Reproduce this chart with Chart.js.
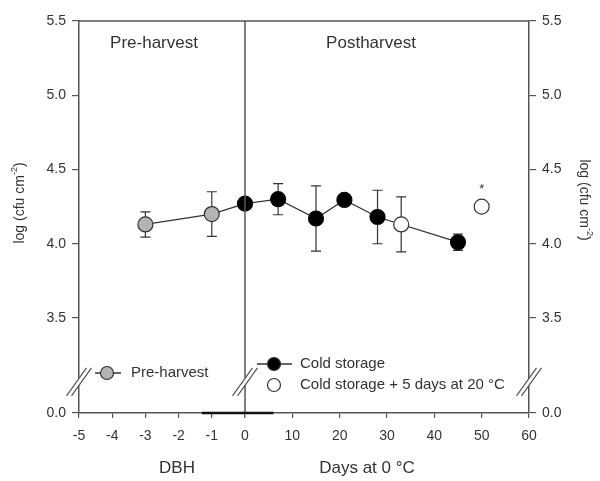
<!DOCTYPE html>
<html>
<head>
<meta charset="utf-8">
<script src="https://cdn.jsdelivr.net/npm/chart.js@4.4.0/dist/chart.umd.min.js"></script>
<style>
  html, body { margin: 0; padding: 0; background: #fff; }
  #wrap { width: 600px; height: 481px; }
</style>
</head>
<body>
<div id="wrap"><canvas id="chart"></canvas></div>
<script>
// pre-harvest, days before harvest (DBH)
const preDays = [-3, -1];
const preVals = [4.13, 4.20];
const preErr = [0.085, 0.15];

// cold storage, days at 0 C
const coldDays = [0, 7, 15, 21, 28, 45];
const coldVals = [4.27, 4.30, 4.17, 4.295, 4.18, 4.01];
const coldErr = [0, 0.105, 0.22, 0.02, 0.18, 0.055];

// cold storage + 5 days at 20 C
const warmDays = [33, 50];
const warmVals = [4.13, 4.25];
const warmErr = [0.185, 0];
const starred = [false, true];

const yTicks = [3.5, 4.0, 4.5, 5.0, 5.5];
const yBottom = 2.86; // drawn as 0.0 under the axis break
const yBreak = 3.07;

const font = '"Liberation Sans", Arial, sans-serif';
const ink = "#333";
const axisColor = "#555";

function pts(xs, ys) {
  return xs.map((x, i) => ({ x: x, y: ys[i] }));
}

function errorBars(ctx, xs, ys, es, xScale, yScale) {
  xs.forEach((x, i) => {
    if (!es[i]) return;
    const px = xScale.getPixelForValue(x);
    const top = yScale.getPixelForValue(ys[i] + es[i]);
    const bot = yScale.getPixelForValue(ys[i] - es[i]);
    ctx.beginPath();
    ctx.moveTo(px, top);
    ctx.lineTo(px, bot);
    ctx.moveTo(px - 5, top);
    ctx.lineTo(px + 5, top);
    ctx.moveTo(px - 5, bot);
    ctx.lineTo(px + 5, bot);
    ctx.stroke();
  });
}

function axisBreak(ctx, x, y) {
  const dx = 10, dy = 14, off = 2.5;
  ctx.save();
  ctx.translate(x, y);
  ctx.fillStyle = "#fff";
  ctx.beginPath();
  ctx.moveTo(-dx - off, dy);
  ctx.lineTo(dx - off, -dy);
  ctx.lineTo(dx + off, -dy);
  ctx.lineTo(-dx + off, dy);
  ctx.closePath();
  ctx.fill();
  ctx.strokeStyle = axisColor;
  ctx.lineWidth = 1.2;
  ctx.beginPath();
  ctx.moveTo(-dx - off, dy);
  ctx.lineTo(dx - off, -dy);
  ctx.moveTo(-dx + off, dy);
  ctx.lineTo(dx + off, -dy);
  ctx.stroke();
  ctx.restore();
}

function marker(ctx, x, y, r, fill) {
  ctx.beginPath();
  ctx.arc(x, y, r, 0, Math.PI * 2);
  ctx.fillStyle = fill;
  ctx.fill();
  ctx.strokeStyle = "#333";
  ctx.lineWidth = 1.2;
  ctx.stroke();
}

function yTitle(ctx, x, y, angle) {
  const main = "log (cfu cm";
  ctx.save();
  ctx.translate(x, y);
  ctx.rotate(angle);
  ctx.fillStyle = ink;
  ctx.textBaseline = "middle";
  ctx.font = "14px " + font;
  const w1 = ctx.measureText(main).width;
  ctx.font = "9px " + font;
  const w2 = ctx.measureText("-2").width;
  ctx.font = "14px " + font;
  const w3 = ctx.measureText(")").width;
  let cx = -(w1 + w2 + w3) / 2;
  ctx.textAlign = "left";
  ctx.fillText(main, cx, 0);
  cx += w1;
  ctx.font = "9px " + font;
  ctx.fillText("-2", cx, -5);
  cx += w2;
  ctx.font = "14px " + font;
  ctx.fillText(")", cx, 0);
  ctx.restore();
}

const decor = {
  id: "decor",
  beforeDatasetsDraw(chart) {
    const { ctx, scales } = chart;
    ctx.save();
    ctx.strokeStyle = ink;
    ctx.lineWidth = 1.2;
    errorBars(ctx, preDays, preVals, preErr, scales.xPre, scales.y);
    errorBars(ctx, coldDays, coldVals, coldErr, scales.xPost, scales.y);
    errorBars(ctx, warmDays, warmVals, warmErr, scales.xPost, scales.y);
    ctx.restore();
  },
  afterDraw(chart) {
    const { ctx, chartArea, scales } = chart;
    const y = scales.y;
    const split = scales.xPost.getPixelForValue(0);
    ctx.save();

    // frame top and the harvest divider
    ctx.strokeStyle = axisColor;
    ctx.lineWidth = 1.5;
    ctx.beginPath();
    ctx.moveTo(chartArea.left, chartArea.top);
    ctx.lineTo(chartArea.right, chartArea.top);
    ctx.moveTo(split, chartArea.top);
    ctx.lineTo(split, chartArea.bottom);
    ctx.stroke();

    // dark stretch of the x axis around harvest
    ctx.strokeStyle = "#111";
    ctx.lineWidth = 2.5;
    ctx.beginPath();
    ctx.moveTo(scales.xPre.getPixelForValue(-1.3), chartArea.bottom);
    ctx.lineTo(scales.xPost.getPixelForValue(6), chartArea.bottom);
    ctx.stroke();

    // axis breaks
    const by = y.getPixelForValue(yBreak);
    axisBreak(ctx, chartArea.left, by);
    axisBreak(ctx, split, by);
    axisBreak(ctx, chartArea.right, by);

    // asterisks
    ctx.fillStyle = ink;
    ctx.font = "13px " + font;
    ctx.textAlign = "center";
    ctx.textBaseline = "middle";
    warmDays.forEach((d, i) => {
      if (starred[i]) {
        ctx.fillText("*", scales.xPost.getPixelForValue(d), y.getPixelForValue(warmVals[i]) - 17);
      }
    });

    // legends
    ctx.strokeStyle = ink;
    ctx.lineWidth = 1.3;
    ctx.beginPath();
    ctx.moveTo(95, 373);
    ctx.lineTo(121, 373);
    ctx.moveTo(257, 364);
    ctx.lineTo(292, 364);
    ctx.stroke();
    marker(ctx, 107, 373, 6.5, "#b3b3b3");
    marker(ctx, 274, 364, 6.5, "#000");
    marker(ctx, 274, 385, 6.5, "#fff");
    ctx.fillStyle = ink;
    ctx.font = "15px " + font;
    ctx.textAlign = "left";
    ctx.fillText("Pre-harvest", 131, 373);
    ctx.fillText("Cold storage", 300, 364);
    ctx.fillText("Cold storage + 5 days at 20 \u00b0C", 300, 385);

    // panel and axis titles
    ctx.font = "17px " + font;
    ctx.textAlign = "center";
    ctx.fillText("Pre-harvest", 154, 43);
    ctx.fillText("Postharvest", 371, 43);
    ctx.fillText("DBH", 177, 468);
    ctx.fillText("Days at 0 \u00b0C", 367, 468);

    yTitle(ctx, 20, 203, -Math.PI / 2);
    yTitle(ctx, 584, 200, Math.PI / 2);
    ctx.restore();
  }
};

const tickFont = { family: font, size: 14 };
const lineStyle = { borderColor: ink, borderWidth: 1.3, pointBorderColor: "#333", pointBorderWidth: 1.2, pointRadius: 7.5, pointHoverRadius: 7.5, clip: false };

function xAxis(min, max, step, weight, skipZero) {
  return {
    type: "linear",
    position: "bottom",
    stack: "x",
    stackWeight: weight,
    min: min,
    max: max,
    ticks: {
      stepSize: step,
      autoSkip: false,
      maxRotation: 0,
      minRotation: 0,
      color: ink,
      font: tickFont,
      padding: 10,
      callback: (v) => (skipZero && v === 0 ? "" : v)
    },
    grid: { drawOnChartArea: false, tickLength: 5, color: axisColor, lineWidth: 1.2 },
    border: { color: axisColor, width: 1.5 },
    afterFit: (s) => { s.height = 68; }
  };
}

function yAxis(pos, width) {
  return {
    type: "linear",
    position: pos,
    min: yBottom,
    max: 5.5,
    afterBuildTicks: (s) => { s.ticks = [yBottom, ...yTicks].map((v) => ({ value: v })); },
    ticks: {
      color: ink,
      font: tickFont,
      padding: 6,
      callback: (v) => (v === yBottom ? "0.0" : v.toFixed(1))
    },
    grid: { drawOnChartArea: false, tickLength: 7, color: axisColor, lineWidth: 1.2 },
    border: { color: axisColor, width: 1.5 },
    afterFit: (s) => { s.width = width; }
  };
}

new Chart(document.getElementById("chart"), {
  type: "scatter",
  data: {
    datasets: [
      Object.assign({
        label: "Pre-harvest",
        xAxisID: "xPre",
        yAxisID: "y",
        order: 2,
        showLine: true,
        data: [...pts(preDays, preVals), { x: 0, y: coldVals[0] }],
        pointBackgroundColor: "#b3b3b3"
      }, lineStyle, { pointRadius: [...preDays.map(() => 7.5), 0] }),
      Object.assign({
        label: "Cold storage",
        xAxisID: "xPost",
        yAxisID: "y",
        order: 1,
        showLine: true,
        data: pts(coldDays, coldVals),
        pointBackgroundColor: "#000"
      }, lineStyle, { pointBorderColor: "#000" }),
      Object.assign({
        label: "Cold storage + 5 days at 20 \u00b0C",
        xAxisID: "xPost",
        yAxisID: "y",
        order: 0,
        showLine: false,
        data: pts(warmDays, warmVals),
        pointBackgroundColor: "#fff"
      }, lineStyle)
    ]
  },
  options: {
    responsive: true,
    maintainAspectRatio: false,
    animation: false,
    layout: { padding: { top: 21, left: 0, right: 0, bottom: 0 } },
    plugins: {
      legend: { display: false },
      tooltip: { enabled: false }
    },
    scales: {
      xPre: xAxis(-5, 0, 1, 166, false),
      xPost: xAxis(0, 60, 10, 284, true),
      y: yAxis("left", 79),
      y2: yAxis("right", 71)
    }
  },
  plugins: [decor]
});
</script>
</body>
</html>
